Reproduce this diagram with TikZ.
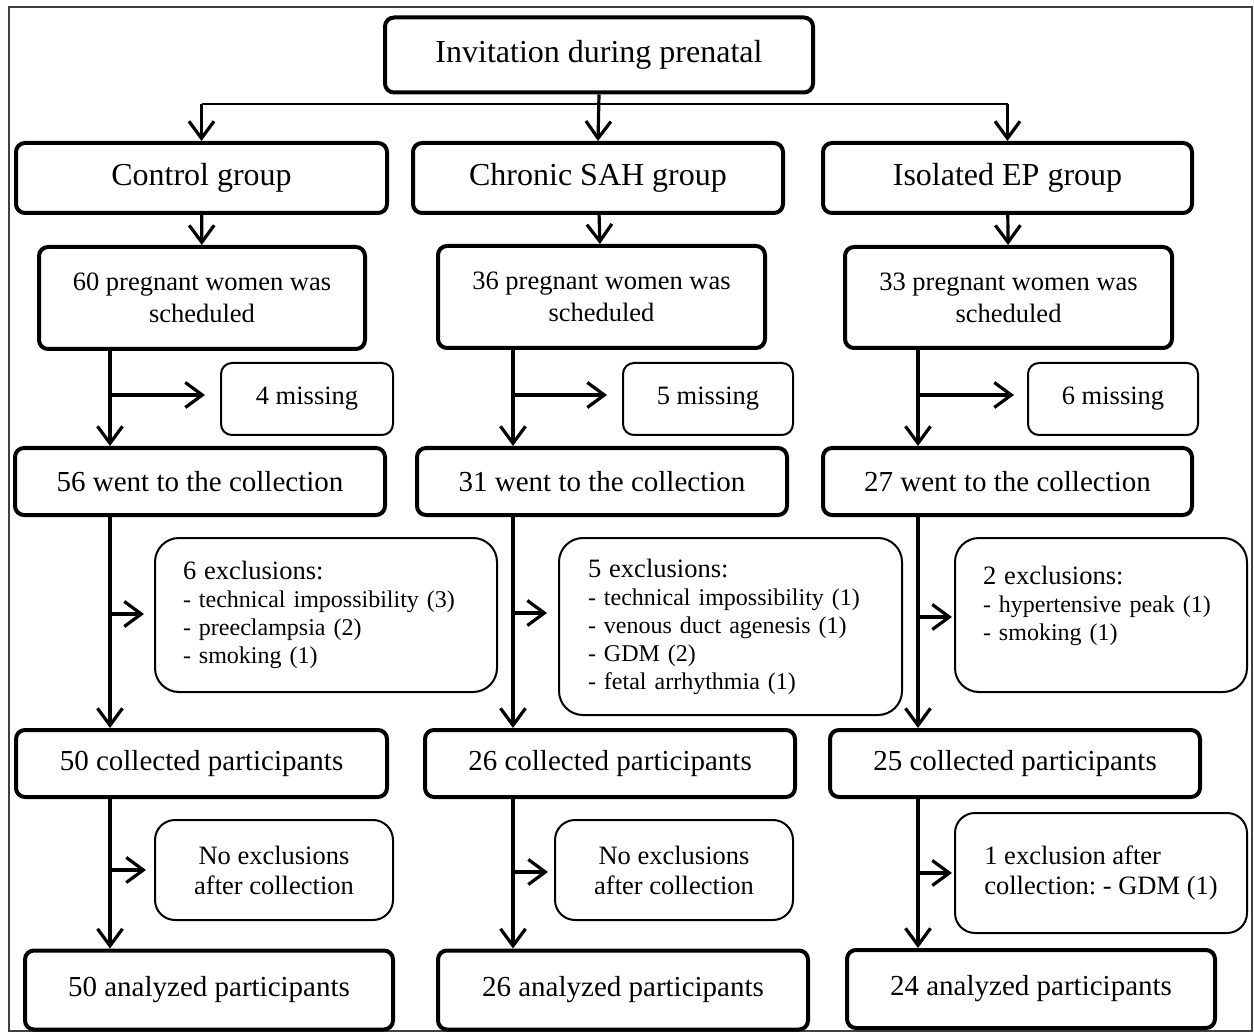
\documentclass[tikz,border=0pt]{standalone}
\usepackage{fontspec}
\setmainfont{Liberation Serif}
\usetikzlibrary{arrows.meta,positioning,calc}

\begin{document}
\begin{tikzpicture}[
    x=1pt, y=-1pt,
    mainbox/.style={draw, line width=4pt, rounded corners=9pt, inner sep=0pt, align=center},
    sidebox/.style={draw, line width=2pt, rounded corners=11pt, inner sep=0pt, align=center},
    exclbox/.style={draw, line width=2pt, rounded corners=24pt, inner sep=0pt, align=left},
    bigfont/.style={font=\fontsize{32}{38}\selectfont},
    stepfont/.style={font=\fontsize{29}{34}\selectfont},
    schedfont/.style={font=\fontsize{26.5}{32}\selectfont},
    notefont/.style={font=\fontsize{26.5}{30}\selectfont},
    listfont/.style={font=\fontsize{24}{28}\selectfont},
    arrow/.style={-{Straight Barb[length=17pt,width=25pt]}, line width=3.2pt},
    split/.style={line width=1.6pt},
    frame/.style={draw=black!75, line width=1.5pt}
]
    \useasboundingbox (0,0) rectangle (1254,1032);
    \draw[frame] (9,7) rectangle (1252,1031);

    % Top and groups
    \node[mainbox, bigfont, minimum width=428pt, minimum height=75pt] (invite) at (599,55) {Invitation during prenatal};
    \node[mainbox, bigfont, minimum width=371pt, minimum height=70pt] (grp1) at (201.5,178) {Control group};
    \node[mainbox, bigfont, minimum width=370pt, minimum height=70pt] (grp2) at (598,178) {Chronic SAH group};
    \node[mainbox, bigfont, minimum width=369pt, minimum height=70pt] (grp3) at (1007.5,178) {Isolated EP group};

    \coordinate (fork) at (599,104);
    \draw[split] (fork -| grp1.north) -- (fork -| grp3.north);
    \draw[arrow] (fork -| grp1.north) -- (grp1.north);
    \draw[arrow] (invite.south) -- (grp2.north);
    \draw[arrow] (fork -| grp3.north) -- (grp3.north);

    % Scheduled
    \node[mainbox, schedfont, minimum width=326pt, minimum height=102pt] (sch1) at (202,298) {60 pregnant women was\\scheduled};
    \node[mainbox, schedfont, minimum width=327pt, minimum height=102pt] (sch2) at (601.5,297) {36 pregnant women was\\scheduled};
    \node[mainbox, schedfont, minimum width=327pt, minimum height=101pt] (sch3) at (1008.5,297.5) {33 pregnant women was\\scheduled};
    \draw[arrow] (grp1) -- (sch1);
    \draw[arrow] (grp2) -- (sch2);
    \draw[arrow] (grp3) -- (sch3);

    % Missing
    \node[sidebox, notefont, minimum width=172pt, minimum height=72pt] (miss1) at (307,399) {4 missing};
    \node[sidebox, notefont, minimum width=170pt, minimum height=72pt] (miss2) at (708,399) {5 missing};
    \node[sidebox, notefont, minimum width=170pt, minimum height=72pt] (miss3) at (1113,399) {6 missing};

    % Went to the collection
    \node[mainbox, stepfont, minimum width=370pt, minimum height=67pt] (went1) at (200,481.5) {56 went to the collection};
    \node[mainbox, stepfont, minimum width=370pt, minimum height=67pt] (went2) at (602,481.5) {31 went to the collection};
    \node[mainbox, stepfont, minimum width=369pt, minimum height=67pt] (went3) at (1007.5,481.5) {27 went to the collection};

    \coordinate (m1) at (110,395);
    \coordinate (m2) at (513,395);
    \coordinate (m3) at (918,395);
    \draw[arrow] (sch1.south -| m1) -- (went1.north -| m1);
    \draw[arrow] (sch2.south -| m2) -- (went2.north -| m2);
    \draw[arrow] (sch3.south -| m3) -- (went3.north -| m3);
    \draw[arrow, shorten >=15pt] (m1) -- (m1 -| miss1.west);
    \draw[arrow, shorten >=15pt] (m2) -- (m2 -| miss2.west);
    \draw[arrow, shorten >=13pt] (m3) -- (m3 -| miss3.west);

    % Exclusions
    \node[exclbox, listfont, text width=286pt, minimum width=342pt, minimum height=154pt] (excl1) at (326,615)
        {{\fontsize{26.5}{28}\selectfont 6 exclusions:}\\- technical impossibility (3)\\- preeclampsia (2)\\- smoking (1)};
    \node[exclbox, listfont, text width=285pt, minimum width=343pt, minimum height=177pt] (excl2) at (730.5,626.5)
        {{\fontsize{26.5}{28}\selectfont 5 exclusions:}\\- technical impossibility (1)\\- venous duct agenesis (1)\\- GDM (2)\\- fetal arrhythmia (1)};
    \node[exclbox, listfont, text width=236pt, text depth=80pt, minimum width=292pt, minimum height=154pt] (excl3) at (1101,615)
        {{\fontsize{26.5}{28}\selectfont 2 exclusions:}\\- hypertensive peak (1)\\- smoking (1)};

    % Collected
    \node[mainbox, stepfont, minimum width=371pt, minimum height=67pt] (coll1) at (201.5,763.5) {50 collected participants};
    \node[mainbox, stepfont, minimum width=370pt, minimum height=67pt] (coll2) at (610,763.5) {26 collected participants};
    \node[mainbox, stepfont, minimum width=370pt, minimum height=67pt] (coll3) at (1015,763.5) {25 collected participants};

    \coordinate (e1) at (110,614);
    \coordinate (e2) at (513,613);
    \coordinate (e3) at (918,617);
    \draw[arrow] (went1.south -| e1) -- (coll1.north -| e1);
    \draw[arrow] (went2.south -| e2) -- (coll2.north -| e2);
    \draw[arrow] (went3.south -| e3) -- (coll3.north -| e3);
    \draw[arrow, shorten >=10pt] (e1) -- (e1 -| excl1.west);
    \draw[arrow, shorten >=11pt] (e2) -- (e2 -| excl2.west);
    \draw[arrow, shorten >=2pt] (e3) -- (e3 -| excl3.west);

    % After collection
    \node[sidebox, notefont, rounded corners=20pt, minimum width=238pt, minimum height=100pt] (none1) at (274,870) {No exclusions\\after collection};
    \node[sidebox, notefont, rounded corners=20pt, minimum width=238pt, minimum height=100pt] (none2) at (674,870) {No exclusions\\after collection};
    \node[sidebox, notefont, rounded corners=20pt, align=left, minimum width=292pt, minimum height=120pt] (gdm3) at (1101,873) {1 exclusion after\\collection:\ - GDM (1)};

    % Analyzed
    \node[mainbox, stepfont, minimum width=368pt, minimum height=79pt] (anal1) at (209,990) {50 analyzed participants};
    \node[mainbox, stepfont, minimum width=370pt, minimum height=79pt] (anal2) at (623,990) {26 analyzed participants};
    \node[mainbox, stepfont, minimum width=368pt, minimum height=78pt] (anal3) at (1031,989) {24 analyzed participants};

    \coordinate (n1) at (110,870);
    \coordinate (n2) at (513,872);
    \coordinate (n3) at (918,873);
    \draw[arrow] (coll1.south -| n1) -- (anal1.north -| n1);
    \draw[arrow] (coll2.south -| n2) -- (anal2.north -| n2);
    \draw[arrow] (coll3.south -| n3) -- (anal3.north -| n3);
    \draw[arrow, shorten >=8pt] (n1) -- (n1 -| none1.west);
    \draw[arrow, shorten >=6pt] (n2) -- (n2 -| none2.west);
    \draw[arrow, shorten >=2pt] (n3) -- (n3 -| gdm3.west);
\end{tikzpicture}
\end{document}
